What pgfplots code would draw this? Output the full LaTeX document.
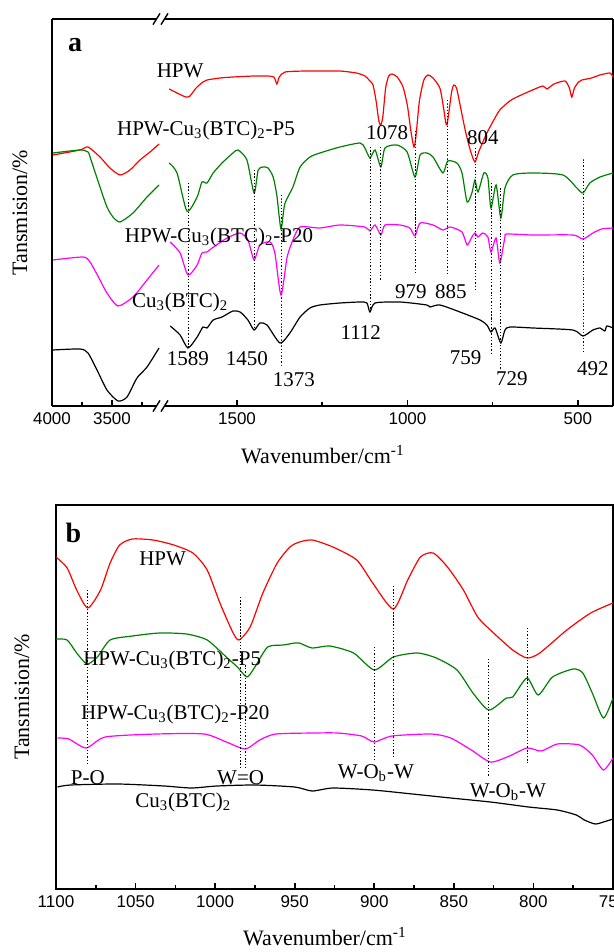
\documentclass[border=0pt]{standalone}
\usepackage{fontspec}
\setmainfont{Liberation Serif}
\newfontfamily\sansf{Liberation Sans}
\usepackage{pgfplots}
\pgfplotsset{compat=1.18}

\definecolor{cred}{RGB}{255,0,0}
\definecolor{cgreen}{RGB}{0,128,0}
\definecolor{cmag}{RGB}{255,0,255}
\newcommand\lab{\fontsize{10.5}{12}\selectfont}

\pgfplotsset{
  ftir/.style={
    scale only axis, clip mode=individual,
    x dir=reverse, ytick=\empty,
    axis line style={line width=0.8pt},
    major tick length=3pt, minor tick length=2pt,
    tick style={black, line width=0.8pt},
    xtick pos=left,
    tick label style={font=\sansf\fontsize{8.5}{10}\selectfont},
    /pgf/number format/assume math mode=true,
    /pgf/number format/1000 sep={},
    every axis plot/.append style={line width=0.6pt, smooth, tension=0.4},
  },
  broken/.style={separate axis lines, y axis line style={draw=none}},
  pk/.style={densely dotted, black, line width=0.4pt},
}

\begin{document}
\begin{tikzpicture}
\useasboundingbox (0,0) rectangle (307pt,-476pt);

% ---- panel a, 4000-3100 part
\begin{axis}[ftir, broken, at={(26pt,-203pt)}, anchor=south west,
  width=54pt, height=193.5pt, xmin=3100, xmax=4000, ymin=0, ymax=387,
  xtick={4000,3500}, minor xtick={3750,3250}]
\draw[line width=0.8pt] (axis cs:4000,0) -- (axis cs:4000,387);
\addplot[cred] coordinates {(3992,251)(3767,256)(3700,259)(3600,249)(3517,238)(3433,231)(3350,236)(3267,246)(3183,254)(3108,262)};
\addplot[cgreen] coordinates {(3992,253)(3767,256)(3700,254)(3683,249)(3600,219)(3542,199)(3492,189)(3433,184)(3325,193)(3208,209)(3108,221)};
\addplot[cmag] coordinates {(3992,146)(3742,149)(3683,144)(3600,126)(3542,113)(3450,100)(3325,109)(3208,126)(3108,141)};
\addplot[black] coordinates {(3992,56)(3767,57)(3700,53)(3625,36)(3542,16)(3450,5)(3375,9)(3292,28)(3208,39)(3108,58)};
\node[font=\bfseries\fontsize{14}{16}\selectfont] at (axis cs:3808,361) {a};
\node[rotate=90, font=\fontsize{11}{13}\selectfont] at (axis cs:4000,193.5) [yshift=16pt] {Tansmision/\%};
\end{axis}

% ---- panel a, 1726-397 part
\begin{axis}[ftir, broken, at={(80pt,-203pt)}, anchor=south west,
  width=226.5pt, height=193.5pt, xmin=397, xmax=1726, ymin=0, ymax=387,
  xtick={1500,1000,500}, minor xtick={1250,750}]
\draw[line width=0.8pt] (axis cs:397,0) -- (axis cs:397,387);
% HPW
\addplot[cred] coordinates {(1699,317)(1670,312)(1650,309)(1638,310)(1620,318)(1600,324)(1588,326)(1550,328)(1512,329)(1450,330)(1412,330)(1392,329)(1383,322)(1376,329)(1359,334)(1300,335)(1250,335)(1198,335)(1150,333)(1125,330)(1110,325)(1101,321)(1092,305)(1084,285)(1078,281)(1072,290)(1064,318)(1055,330)(1045,332)(1030,329)(1013,319)(1000,300)(990,275)(981,259)(975,270)(965,305)(952,326)(940,331)(925,328)(905,318)(895,300)(888,284)(884,281)(878,295)(870,315)(864,321)(856,318)(845,300)(830,275)(815,255)(802,244)(790,255)(767,273)(745,287)(729,296)(700,305)(679,309)(640,315)(603,320)(591,317)(570,322)(538,325)(525,318)(518,309)(510,318)(498,324)(488,326)(460,328)(435,331)(406,333)(397,329)};
% P5
\addplot[cgreen] coordinates {(1699,243)(1676,233)(1647,195)(1617,209)(1603,224)(1588,223)(1570,233)(1544,243)(1512,253)(1497,256)(1471,246)(1450,213)(1438,236)(1424,239)(1409,238)(1394,229)(1383,210)(1371,177)(1360,202)(1336,219)(1315,239)(1286,249)(1257,253)(1198,259)(1139,263)(1125,258)(1110,248)(1095,256)(1078,239)(1066,258)(1031,261)(1001,254)(978,229)(963,251)(943,253)(925,249)(896,233)(882,245)(855,243)(840,233)(825,204)(811,213)(802,226)(793,214)(776,233)(764,228)(755,198)(740,221)(726,188)(714,218)(691,231)(632,233)(544,231)(503,218)(485,213)(465,223)(435,229)(397,233)};
% P20
\addplot[cmag] coordinates {(1696,164)(1667,153)(1644,131)(1617,141)(1603,153)(1588,154)(1573,158)(1529,168)(1491,173)(1468,166)(1450,146)(1433,161)(1403,164)(1389,153)(1371,111)(1353,149)(1336,166)(1315,179)(1257,178)(1198,181)(1125,179)(1110,175)(1095,181)(1078,171)(1066,181)(1022,181)(993,178)(978,170)(963,183)(925,181)(896,176)(875,179)(840,174)(825,161)(811,169)(802,173)(793,169)(779,173)(764,169)(755,154)(740,168)(729,143)(714,169)(708,172)(632,171)(515,171)(485,167)(456,173)(430,177)(397,178)};
% Cu3(BTC)2
\addplot[black] coordinates {(1696,80)(1667,71)(1644,58)(1617,69)(1600,79)(1588,78)(1570,86)(1544,89)(1512,95)(1491,94)(1468,86)(1450,76)(1433,83)(1412,81)(1374,63)(1345,73)(1315,89)(1286,98)(1257,101)(1198,103)(1139,104)(1119,103)(1110,94)(1095,103)(1022,104)(943,101)(934,99)(905,101)(846,94)(787,86)(767,81)(755,74)(743,78)(726,63)(714,76)(699,79)(632,78)(515,76)(485,70)(456,76)(435,78)(421,75)(415,80)(397,78)};
% guide lines
\addplot[pk] coordinates {(1644,223)(1644,58)};
\addplot[pk] coordinates {(1450,236)(1450,76)};
\addplot[pk] coordinates {(1371,211)(1371,39)};
\addplot[pk] coordinates {(1110,259)(1110,96)};
\addplot[pk] coordinates {(1078,259)(1078,126)};
\addplot[pk] coordinates {(978,275)(978,133)};
\addplot[pk] coordinates {(884,306)(884,133)};
\addplot[pk] coordinates {(802,258)(802,114)};
\addplot[pk] coordinates {(755,223)(755,51)};
\addplot[pk] coordinates {(726,218)(726,36)};
\addplot[pk] coordinates {(485,247)(485,53)};
% labels
\node[font=\lab] at (axis cs:1667,335) {HPW};
\node[font=\lab] at (axis cs:1591,276) {HPW-Cu\textsubscript{3}(BTC)\textsubscript{2}-P5};
\node[font=\lab] at (axis cs:1553,169) {HPW-Cu\textsubscript{3}(BTC)\textsubscript{2}-P20};
\node[font=\lab] at (axis cs:1667,104) {Cu\textsubscript{3}(BTC)\textsubscript{2}};
\node[font=\lab] at (axis cs:1644,47) {1589};
\node[font=\lab] at (axis cs:1471,47) {1450};
\node[font=\lab] at (axis cs:1333,26) {1373};
\node[font=\lab] at (axis cs:1137,73) {1112};
\node[font=\lab] at (axis cs:990,114) {979};
\node[font=\lab] at (axis cs:873,114) {885};
\node[font=\lab] at (axis cs:829,48) {759};
\node[font=\lab] at (axis cs:694,27) {729};
\node[font=\lab] at (axis cs:456,37) {492};
\node[font=\lab] at (axis cs:1060,273) {1078};
\node[font=\lab] at (axis cs:779,268) {804};
\end{axis}

% axis break marks
\foreach \yy in {-9.5pt,-203pt} {
  \fill[white] (78.5pt,\yy-1.5pt) rectangle (82.5pt,\yy+1.5pt);
  \draw[line width=0.7pt] (76.5pt,\yy-2.8pt) -- (80pt,\yy+2.8pt);
  \draw[line width=0.7pt] (80.5pt,\yy-2.8pt) -- (84pt,\yy+2.8pt);
}
\node[font=\fontsize{11}{13}\selectfont] at (161.5pt,-227.5pt) {Wavenumber/cm\textsuperscript{-1}};

% ---- panel b
\begin{axis}[ftir, at={(28pt,-444.5pt)}, anchor=south west,
  width=278.5pt, height=192pt, xmin=750, xmax=1100, ymin=0, ymax=384,
  xtick={750,800,...,1100}, minor tick num=1]
\addplot[cred] coordinates {(1100,332)(1093,321)(1087,299)(1080,281)(1072,299)(1066,326)(1060,344)(1052,350)(1039,349)(1026,344)(1014,336)(1005,319)(997,286)(989,257)(985,249)(978,262)(970,296)(961,326)(953,342)(947,347)(939,349)(926,342)(911,329)(901,306)(888,280)(879,309)(871,332)(863,336)(854,322)(844,299)(835,272)(825,256)(813,239)(804,231)(796,236)(779,259)(764,276)(750,286)};
\addplot[cgreen] coordinates {(1100,250)(1093,249)(1087,236)(1080.5,225)(1074,232)(1066,249)(1052,253)(1035,256)(1018,255)(1005,249)(993,232)(986,222)(980,212)(975,222)(967,242)(957,244)(950,246)(947,246)(939,241)(928,243)(913,236)(900,219)(888,232)(873,236)(861,231)(848,219)(838,196)(828,179)(817,191)(813,192)(804,211)(797,194)(788,212)(775,220)(769,216)(763,196)(756,171)(750,191)};
\addplot[cmag] coordinates {(1099,151)(1092,150)(1081,141)(1069,152)(1037,155)(1007,155)(993,147)(981,140)(972,149)(962,155)(938,156)(923,156)(908,153)(900,147)(889,153)(864,155)(852,151)(839,139)(827,127)(815,133)(804,141)(795,138)(785,145)(771,144)(763,134)(756,119)(750,131)};
\addplot[black] coordinates {(1099,102)(1091,104)(1061,105)(1032,103)(1015,101)(999,103)(975,104)(950,102)(939,98)(926,101)(901,99)(876,95)(852,91)(827,87)(803,82)(785,79)(773,74)(768,69)(761,65)(754,68)(750,70)};
\addplot[pk] coordinates {(1080,299)(1080,126)};
\addplot[pk] coordinates {(984,292)(984,121)};
\addplot[pk] coordinates {(981,224)(981,121)};
\addplot[pk] coordinates {(900,242)(900,129)};
\addplot[pk] coordinates {(888,303)(888,132)};
\addplot[pk] coordinates {(828,230)(828,113)};
\addplot[pk] coordinates {(804,261)(804,126)};
\node[font=\bfseries\fontsize{14}{16}\selectfont] at (axis cs:1089,356) {b};
\node[font=\lab] at (axis cs:1033,330) {HPW};
\node[font=\lab] at (axis cs:1027,229) {HPW-Cu\textsubscript{3}(BTC)\textsubscript{2}-P5};
\node[font=\lab] at (axis cs:1025,175) {HPW-Cu\textsubscript{3}(BTC)\textsubscript{2}-P20};
\node[font=\lab] at (axis cs:1080,111) {P-O};
\node[font=\lab] at (axis cs:984,111) {W=O};
\node[font=\lab] at (axis cs:899,116) {W-O\textsubscript{b}-W};
\node[font=\lab] at (axis cs:816,97) {W-O\textsubscript{b}-W};
\node[font=\lab] at (axis cs:1020,87) {Cu\textsubscript{3}(BTC)\textsubscript{2}};
\node[rotate=90, font=\fontsize{11}{13}\selectfont] at (axis cs:1100,192) [yshift=17pt] {Tansmision/\%};
\end{axis}
\node[font=\fontsize{11}{13}\selectfont] at (162.5pt,-468.5pt) {Wavenumber/cm\textsuperscript{-1}};
\end{tikzpicture}
\end{document}
